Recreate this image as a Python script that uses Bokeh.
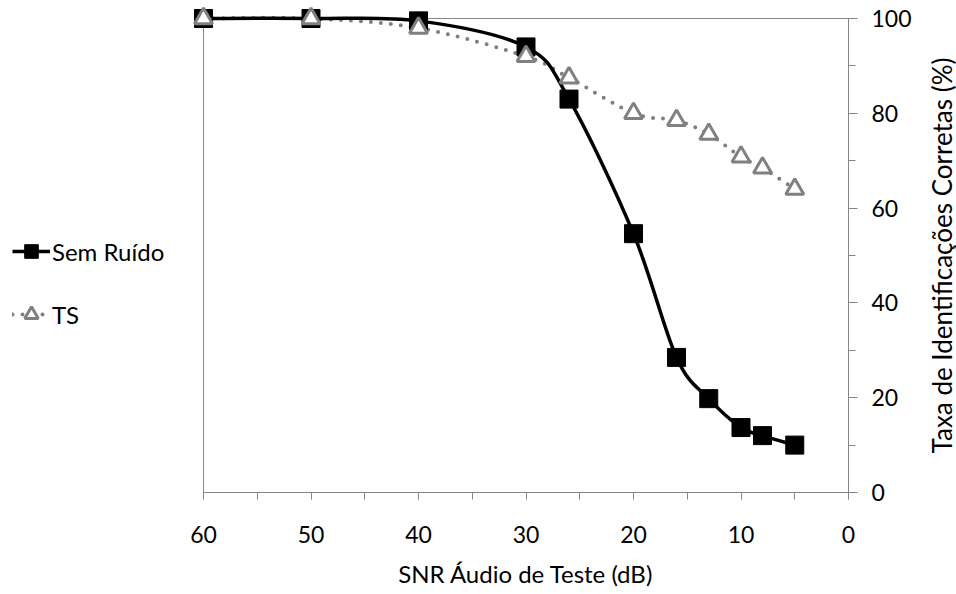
import math
import numpy as np
from bokeh.plotting import figure
from bokeh.layouts import row
from bokeh.models import (Range1d, SingleIntervalTicker, Legend, LegendItem,
                          ColumnDataSource, Label)
from bokeh.embed import file_html
from bokeh.resources import INLINE

snr = [60, 50, 40, 30, 26, 20, 16, 13, 10, 8, 5]
sem_ruido = [100, 100, 99.5, 94, 83, 54.6, 28.5, 19.8, 13.7, 12.0, 10.0]
ts = [100, 100, 98, 92, 87.5, 80, 78.5, 75.6, 70.8, 68.5, 64]

x_title = "SNR Áudio de Teste (dB)"
y_title = "Taxa de Identificações Corretas (%)"
series_names = ["Sem Ruído", "TS"]

FONT = "Lato"
TICK_FS = "23px"
TITLE_FS = "24px"
YTITLE_FS = "26px"
AX = "#868686"
GRAY = "#7f7f7f"

STYLE_SR_LINE = dict(line_color="black", line_width=3.5)
STYLE_TS_LINE = dict(line_color=GRAY, line_width=4, line_dash="0 10", line_cap="round")
STYLE_SR_MARK = dict(marker="square", size=18, fill_color="black", line_color="black")
STYLE_TS_MARK = dict(marker="triangle", size=18, fill_color="white", line_color="#808080",
                     line_width=3)


def bezier_source(xs, ys):
    x = np.array(xs, float)
    y = np.array(ys, float)
    px = np.concatenate([[x[0]], x, [x[-1]]])
    py = np.concatenate([[y[0]], y, [y[-1]]])
    d = dict(x0=[], y0=[], x1=[], y1=[], cx0=[], cy0=[], cx1=[], cy1=[])
    for i in range(len(x) - 1):
        p0x, p0y = px[i], py[i]
        p1x, p1y = px[i + 1], py[i + 1]
        p2x, p2y = px[i + 2], py[i + 2]
        p3x, p3y = px[i + 3], py[i + 3]
        d["x0"].append(p1x); d["y0"].append(p1y)
        d["x1"].append(p2x); d["y1"].append(p2y)
        d["cx0"].append(p1x + (p2x - p0x) / 6); d["cy0"].append(p1y + (p2y - p0y) / 6)
        d["cx1"].append(p2x - (p3x - p1x) / 6); d["cy1"].append(p2y - (p3y - p1y) / 6)
    return ColumnDataSource(d)


LEG_W = 185
TITLE_W = 36
TOTAL_W = 956
TOTAL_H = 594
BT, BB = 18, 102


def blank_fig(width, y_range):
    f = figure(width=width, height=TOTAL_H, output_backend="svg", toolbar_location=None,
               x_range=Range1d(-100, -99), y_range=y_range,
               x_axis_location=None, y_axis_location=None,
               min_border_left=0, min_border_right=0, min_border_top=BT, min_border_bottom=BB)
    f.grid.visible = False
    f.outline_line_color = None
    f.background_fill_color = "white"
    f.border_fill_color = "white"
    return f


# ---------------- main chart ----------------
p = figure(width=TOTAL_W - LEG_W - TITLE_W, height=TOTAL_H, output_backend="svg",
           toolbar_location=None,
           x_range=Range1d(60, 0), y_range=Range1d(0, 100),
           y_axis_location="right",
           min_border_left=18, min_border_right=72, min_border_top=BT, min_border_bottom=BB)
p.grid.visible = False
p.outline_line_color = AX
p.outline_line_width = 1
p.background_fill_color = "white"
p.border_fill_color = "white"

for ax in (p.xaxis[0], p.yaxis[0]):
    ax.axis_line_color = AX
    ax.major_tick_line_color = AX
    ax.minor_tick_line_color = AX
    ax.major_tick_in = 0
    ax.minor_tick_in = 0
    ax.major_label_text_font = FONT
    ax.major_label_text_font_size = TICK_FS
    ax.major_label_text_color = "#000000"
    ax.axis_label_text_font = FONT
    ax.axis_label_text_font_size = TITLE_FS
    ax.axis_label_text_font_style = "normal"
    ax.axis_label_text_color = "#000000"

p.xaxis.ticker = SingleIntervalTicker(interval=10, num_minor_ticks=2)
p.xaxis.major_tick_out = 7
p.xaxis.minor_tick_out = 7
p.xaxis.major_label_standoff = 26
p.xaxis.axis_label = x_title
p.xaxis.axis_label_standoff = 13

p.yaxis.ticker = SingleIntervalTicker(interval=20, num_minor_ticks=2)
p.yaxis.major_tick_out = 9
p.yaxis.minor_tick_out = 7
p.yaxis.major_label_standoff = 14

src1 = bezier_source(snr, sem_ruido)
src2 = bezier_source(snr, ts)
bz = dict(x0="x0", y0="y0", x1="x1", y1="y1", cx0="cx0", cy0="cy0", cx1="cx1", cy1="cy1")

p.bezier(source=src2, level="overlay", **bz, **STYLE_TS_LINE)
p.bezier(source=src1, level="overlay", **bz, **STYLE_SR_LINE)
p.scatter(snr, sem_ruido, level="overlay", **STYLE_SR_MARK)
p.scatter(snr, ts, level="overlay", **STYLE_TS_MARK)

# ---------------- y-axis title panel (right) ----------------
pt = blank_fig(TITLE_W, Range1d(0, 100))
pt.add_layout(Label(x=21, y=50, x_units="screen", y_units="data", text=y_title,
                    angle=math.pi / 2, text_align="center", text_baseline="middle",
                    text_font=FONT, text_font_size=YTITLE_FS, text_color="#000000"))

# ---------------- legend panel (left) ----------------
pl = blank_fig(LEG_W, Range1d(-100, -99))

l1 = pl.line(snr, sem_ruido, **STYLE_SR_LINE)
s1 = pl.scatter(snr, sem_ruido, **STYLE_SR_MARK)
l2 = pl.line(snr, ts, **STYLE_TS_LINE)
s2 = pl.scatter(snr, ts, **STYLE_TS_MARK)

legend = Legend(items=[LegendItem(label=series_names[0], renderers=[l1, s1]),
                       LegendItem(label=series_names[1], renderers=[l2, s2])],
                location=(12, 161), orientation="vertical",
                glyph_width=38, glyph_height=34, label_standoff=2, spacing=29,
                padding=0, margin=0, border_line_color=None, background_fill_alpha=0,
                label_text_font=FONT, label_text_font_size=TITLE_FS, label_text_color="#000000")
pl.add_layout(legend, "center")

layout = row(pl, p, pt, spacing=0)
open("out.html", "w").write(file_html(layout, INLINE))
